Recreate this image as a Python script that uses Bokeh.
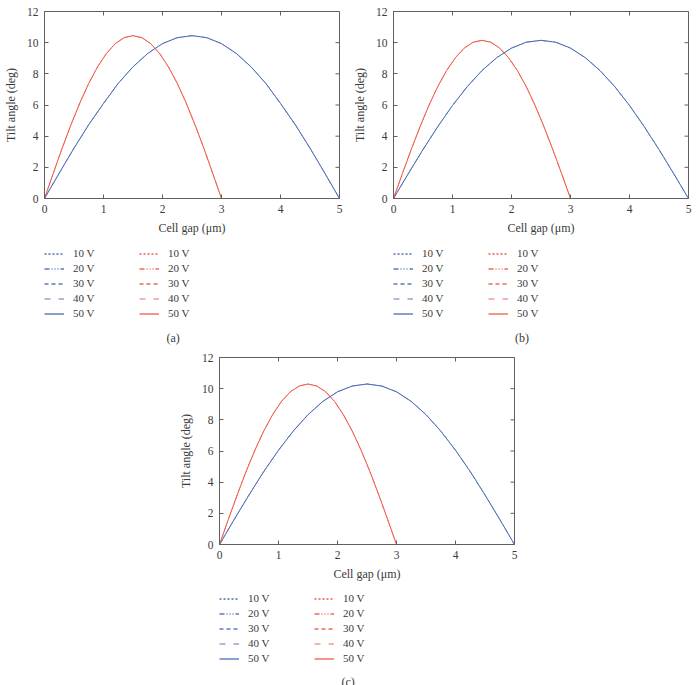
import math
from bokeh.plotting import figure
from bokeh.models import Legend, LegendItem, FixedTicker, Range1d, Label, Spacer
from bokeh.layouts import column, row
from bokeh.embed import file_html
from bokeh.resources import INLINE

# Cell-gap positions (µm) for the 5 µm and 3 µm cells
gap_5um = [0.0, 0.25, 0.5, 0.75, 1.0, 1.25, 1.5, 1.75, 2.0, 2.25, 2.5,
           2.75, 3.0, 3.25, 3.5, 3.75, 4.0, 4.25, 4.5, 4.75, 5.0]
gap_3um = [0.0, 0.15, 0.3, 0.45, 0.6, 0.75, 0.9, 1.05, 1.2, 1.35, 1.5,
           1.65, 1.8, 1.95, 2.1, 2.25, 2.4, 2.55, 2.7, 2.85, 3.0]

# Tilt angle (deg) profiles; every voltage gives the same profile
tilt_5um_a = [0.0, 1.63, 3.23, 4.74, 6.10, 7.39, 8.45, 9.31, 9.94, 10.32, 10.45,
              10.32, 9.94, 9.31, 8.45, 7.39, 6.10, 4.74, 3.23, 1.63, 0.0]
tilt_3um_a = [0.0, 1.63, 3.23, 4.74, 6.14, 7.39, 8.45, 9.31, 9.94, 10.32, 10.45,
              10.32, 9.94, 9.31, 8.45, 7.39, 6.14, 4.74, 3.23, 1.63, 0.0]
tilt_5um_b = [0.0, 1.59, 3.14, 4.61, 5.97, 7.18, 8.21, 9.04, 9.65, 10.03, 10.15,
              10.03, 9.65, 9.04, 8.21, 7.18, 5.97, 4.61, 3.14, 1.59, 0.0]
tilt_3um_b = [0.0, 1.59, 3.14, 4.61, 5.97, 7.18, 8.21, 9.04, 9.65, 10.03, 10.15,
              10.03, 9.65, 9.04, 8.21, 7.18, 5.97, 4.61, 3.14, 1.59, 0.0]
tilt_5um_c = [0.0, 1.61, 3.18, 4.68, 6.05, 7.28, 8.33, 9.18, 9.80, 10.17, 10.30,
              10.17, 9.80, 9.18, 8.33, 7.28, 6.05, 4.68, 3.18, 1.61, 0.0]
tilt_3um_c = [0.0, 1.61, 3.18, 4.68, 6.05, 7.28, 8.33, 9.18, 9.80, 10.17, 10.30,
              10.17, 9.80, 9.18, 8.33, 7.28, 6.05, 4.68, 3.18, 1.61, 0.0]

voltages = ["10 V", "20 V", "30 V", "40 V", "50 V"]
panel_tags = ["(a)", "(b)", "(c)"]
x_ticks = [0, 1, 2, 3, 4, 5]
y_ticks = [0, 2, 4, 6, 8, 10, 12]

# Styling
BLUE = "#4a6bb4"
RED = "#ef5b4b"
AXIS = "#606060"
TEXT = "#3a3a3a"
FONT = "Liberation Serif"
DASHES = ["2 2", "5 2 1 2 1 2 1 2", "4 3", "6 8", "solid"]
ALPHAS = [1.0, 0.9, 0.9, 0.6, 1.0]
CHART_H = 240


def make_chart(tilt_5, tilt_3):
    p = figure(width=349, height=CHART_H, output_backend="svg",
               toolbar_location=None,
               x_range=Range1d(0, 5), y_range=Range1d(0, 12),
               min_border_left=43, min_border_right=10,
               min_border_top=11, min_border_bottom=CHART_H - 198)
    p.background_fill_color = "white"
    p.border_fill_color = "white"
    p.grid.visible = False
    p.outline_line_color = AXIS

    for ax in p.axis:
        ax.axis_line_color = AXIS
        ax.major_tick_line_color = AXIS
        ax.minor_tick_line_color = None
        ax.major_tick_in = 4
        ax.major_tick_out = 0
        ax.major_label_text_font = FONT
        ax.major_label_text_font_size = "11.5px"
        ax.major_label_text_color = TEXT
        ax.axis_label_text_font = FONT
        ax.axis_label_text_font_size = "12px"
        ax.axis_label_text_font_style = "normal"
        ax.axis_label_text_color = TEXT
    p.xaxis.ticker = FixedTicker(ticks=x_ticks)
    p.yaxis.ticker = FixedTicker(ticks=y_ticks)
    p.xaxis.axis_label = "Cell gap (μm)"
    p.xaxis.major_label_standoff = 6
    p.xaxis.axis_label_standoff = 5
    p.yaxis.axis_label = "Tilt angle (deg)"
    p.yaxis.major_label_standoff = 6
    p.yaxis.axis_label_standoff = 6

    # Inward ticks on the top and right edges of the box
    p.ray(x=x_ticks, y=[12] * len(x_ticks), length=4, length_units="screen",
          angle=-math.pi / 2, line_color=AXIS, line_width=1)
    p.ray(x=[5] * len(y_ticks), y=y_ticks, length=4, length_units="screen",
          angle=math.pi, line_color=AXIS, line_width=1)

    # One curve per voltage; the curves coincide, 50 V solid on top
    for dash, a in zip(DASHES, ALPHAS):
        alpha = a if dash == "solid" else 0.25
        p.line(gap_5um, tilt_5, line_color=BLUE, line_width=1,
               line_dash=dash, line_alpha=alpha)
        p.line(gap_3um, tilt_3, line_color=RED, line_width=1,
               line_dash=dash, line_alpha=alpha)
    return p


def make_key(tag, tilt_5, tilt_3, height, key_bottom, tag_y):
    # Key area below each chart; its frame lines up with the chart's frame
    q = figure(width=349, height=height, output_backend="svg",
               toolbar_location=None, x_axis_type=None, y_axis_type=None,
               x_range=Range1d(0, 5), y_range=Range1d(0, height),
               min_border=0)
    q.outline_line_color = None
    q.background_fill_color = "white"
    q.border_fill_color = "white"

    blue_items, red_items = [], []
    for v, dash, a in zip(voltages, DASHES, ALPHAS):
        rb = q.line(gap_5um, tilt_5, line_color=BLUE, line_width=1.3,
                    line_dash=dash, line_alpha=a, visible=False)
        rr = q.line(gap_3um, tilt_3, line_color=RED, line_width=1.3,
                    line_dash=dash, line_alpha=a, visible=False)
        blue_items.append(LegendItem(label=v, renderers=[rb]))
        red_items.append(LegendItem(label=v, renderers=[rr]))

    for items, xoff in ((blue_items, 0), (red_items, 95)):
        leg = Legend(items=items, location=(xoff, key_bottom),
                     orientation="vertical",
                     border_line_color=None, background_fill_alpha=0,
                     inactive_fill_alpha=0,
                     padding=0, margin=0, spacing=0,
                     glyph_width=20, glyph_height=15, label_height=15,
                     label_standoff=9,
                     label_text_font=FONT, label_text_font_size="11px",
                     label_text_color=TEXT)
        q.add_layout(leg)

    q.add_layout(Label(x=2.18, y=tag_y, text=tag, text_align="center",
                       text_baseline="middle", text_font=FONT,
                       text_font_size="12px", text_color=TEXT))
    return q


panel_a = column(make_chart(tilt_5um_a, tilt_3um_a),
                 make_key(panel_tags[0], tilt_5um_a, tilt_3um_a, 106, 25.5, 9))
panel_b = column(make_chart(tilt_5um_b, tilt_3um_b),
                 make_key(panel_tags[1], tilt_5um_b, tilt_3um_b, 106, 25.5, 9))
panel_c = column(make_chart(tilt_5um_c, tilt_3um_c),
                 make_key(panel_tags[2], tilt_5um_c, tilt_3um_c, 99, 19.5, 3.5))

layout = column(row(panel_a, panel_b),
                row(Spacer(width=175, height=339), panel_c))

with open("out.html", "w") as f:
    f.write(file_html(layout, INLINE))
